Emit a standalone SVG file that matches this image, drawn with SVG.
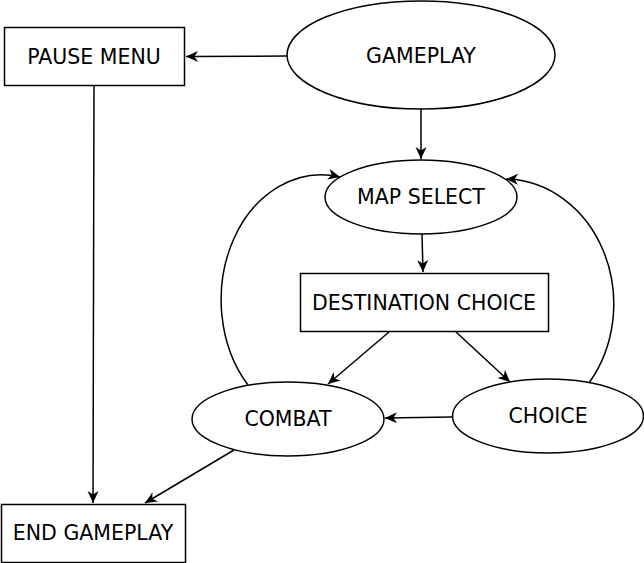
<svg xmlns="http://www.w3.org/2000/svg" width="644" height="563" viewBox="0 0 644 563">
<style>
.shape{fill:#ffffff;stroke:#000000;stroke-width:1.5}
.lbl{font-family:"DejaVu Sans",sans-serif;font-size:20.5px;fill:#000000;text-anchor:middle}
.edge{fill:none;stroke:#000000;stroke-width:1.5;marker-end:url(#arrow)}
</style>
<defs>
<marker id="arrow" markerUnits="userSpaceOnUse" markerWidth="14" markerHeight="12" refX="12" refY="5.5" orient="auto">
<path d="M0,0 L12,5.5 L0,11 L3.5,5.5 Z" fill="#000000"/>
</marker>
</defs>
<rect width="644" height="563" fill="#ffffff"/>
<g id="connectors">
<line class="edge" x1="287" y1="56" x2="186" y2="56.5"/>
<line class="edge" x1="421" y1="109" x2="421" y2="159"/>
<line class="edge" x1="422" y1="234" x2="423" y2="272"/>
<line class="edge" x1="389" y1="332" x2="328" y2="384"/>
<line class="edge" x1="456" y1="332" x2="510" y2="382"/>
<line class="edge" x1="452" y1="417" x2="385" y2="418"/>
<line class="edge" x1="234" y1="450" x2="145" y2="503"/>
<line class="edge" x1="94" y1="85" x2="93" y2="503"/>
<path class="edge" d="M248,385 A100,125 0 0 1 340,177"/>
<path class="edge" d="M589,383 A110,125 0 0 0 506,179"/>
</g>
<g id="pause-menu">
<rect class="shape" x="4.5" y="27.5" width="180" height="58"/>
<text class="lbl" x="94" y="63.5">PAUSE MENU</text>
</g>
<g id="gameplay">
<ellipse class="shape" cx="421" cy="55" rx="134" ry="54"/>
<text class="lbl" x="421" y="63">GAMEPLAY</text>
</g>
<g id="map-select">
<ellipse class="shape" cx="421" cy="197" rx="96" ry="37"/>
<text class="lbl" x="421" y="204">MAP SELECT</text>
</g>
<g id="destination-choice">
<rect class="shape" x="300.5" y="273.5" width="248" height="58"/>
<text class="lbl" x="424" y="309.5">DESTINATION CHOICE</text>
</g>
<g id="combat">
<ellipse class="shape" cx="288" cy="419" rx="96" ry="37"/>
<text class="lbl" x="288" y="426">COMBAT</text>
</g>
<g id="choice">
<ellipse class="shape" cx="548" cy="416" rx="95.5" ry="37"/>
<text class="lbl" x="548" y="423">CHOICE</text>
</g>
<g id="end-gameplay">
<rect class="shape" x="1.5" y="504.5" width="184" height="58"/>
<text class="lbl" x="93" y="540">END GAMEPLAY</text>
</g>
</svg>
